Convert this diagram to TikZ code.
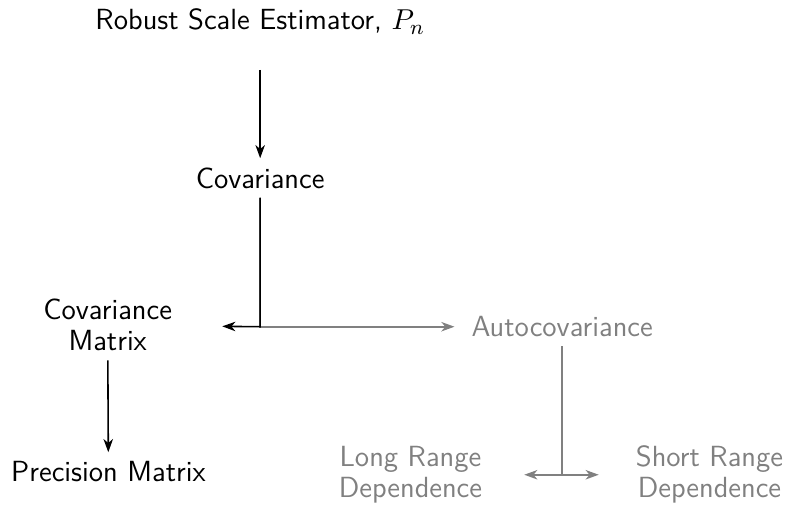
\documentclass[tikz,border=0pt]{standalone}
\usepackage{amsmath}
\usepackage{xcolor}
\usepackage{tikz}
\usetikzlibrary{calc,arrows.meta}

\tikzset{
    box/.style={font=\fontsize{11.1pt}{11.8pt}\selectfont\sffamily, align=center},
    softbox/.style={box, text=gray},
    arr/.style={line width=0.6pt, -{Stealth[length=5pt,width=3.6pt,inset=1.5pt]}},
    softarr/.style={arr, draw=gray}
}

\begin{document}
\begin{tikzpicture}

    % Fix the canvas size
    \useasboundingbox (0,0) rectangle (10.58,-6.78);

    % Estimators and matrices
    \node[box] (robust) at (3.48,-0.29) {Robust Scale Estimator, $P_n$};
    \node[box] (cov) at (3.48,-2.38) {Covariance};
    \node[box] (covmat) at (1.44,-4.35) {Covariance\\Matrix};
    \node[box] (prec) at (1.45,-6.31) {Precision Matrix};

    % Time series branch in gray
    \node[softbox] (auto) at (7.52,-4.37) {Autocovariance};
    \node[softbox] (long) at (5.49,-6.35) {Long Range\\Dependence};
    \node[softbox] (short) at (9.49,-6.35) {Short Range\\Dependence};

    % Junction points
    \coordinate (split) at (cov |- auto);
    \coordinate (fork) at (auto |- long);

    % Main chain
    \draw[arr, shorten <=10pt] (robust) -- (cov);
    \draw[softarr, shorten >=3pt] (cov) |- (auto);
    \draw[arr, shorten >=15.6pt] (cov) -- (split) -- (covmat);
    \draw[arr] (covmat) -- (prec);

    % Dependence fork
    \draw[softarr, shorten >=12.5pt] (auto) -- (fork) -- (long);
    \draw[softarr, shorten >=10.6pt] (auto) -- (fork) -- (short);

\end{tikzpicture}
\end{document}
